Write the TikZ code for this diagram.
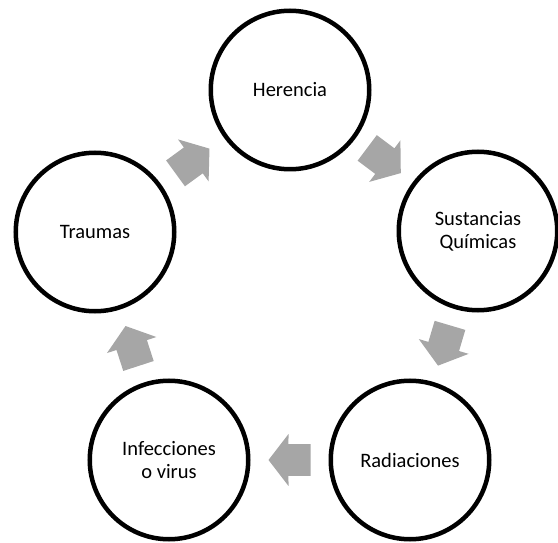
\documentclass[tikz,border=0pt]{standalone}
\usepackage{fontspec}
\setmainfont{Carlito}
\usetikzlibrary{calc}
\definecolor{arrowgray}{HTML}{A6A6A6}
\tikzset{
  cyc/.style={circle, draw=black, line width=4.5pt, fill=white, minimum size=158.5pt, inner sep=0pt,
    align=center, font=\fontsize{20.5}{23}\selectfont},
  arrowfill/.style={fill=arrowgray, draw=none},
}
% block arrow centred between two nodes, pointing from #1 to #2
\newcommand\cyarr[3]{%
  \coordinate (#3) at ($(#1)!0.5!(#2)$);
  \fill[arrowfill] ($(#3)!21pt!(#2)$) -- ($(#3)!26.02pt!87.8:(#2)$) -- ($(#3)!16.03pt!86.4:(#2)$)
    -- ($(#3)!26.4pt!142.7:(#2)$) -- ($(#3)!26.4pt!-142.7:(#2)$) -- ($(#3)!16.03pt!-86.4:(#2)$)
    -- ($(#3)!26.02pt!-87.8:(#2)$) -- cycle;}
\begin{document}
\begin{tikzpicture}[x=1pt,y=1pt]
\useasboundingbox (0,0) rectangle (558,542);
\node[cyc] (here) at (290,452) {Herencia};
\node[cyc] (sust) at (478,311) {Sustancias\\Químicas};
\node[cyc] (radi) at (410,82) {Radiaciones};
\node[cyc] (infe) at (169,82) {Infecciones\\o virus};
\node[cyc] (trau) at (95,310) {Traumas};
\cyarr{here.center}{sust.center}{a1}
\cyarr{sust.center}{radi.center}{a2}
\cyarr{radi.center}{infe.center}{a3}
\cyarr{infe.center}{trau.center}{a4}
\cyarr{trau.center}{here.center}{a5}
\end{tikzpicture}
\end{document}
